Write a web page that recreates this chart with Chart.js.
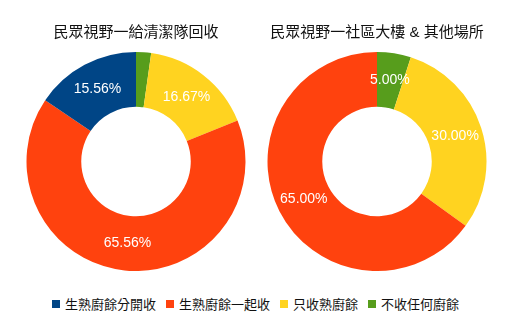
<!DOCTYPE html>
<html>
<head>
<meta charset="utf-8">
<script src="https://cdn.jsdelivr.net/npm/chart.js@4/dist/chart.umd.min.js"></script>
<style>
  body { margin: 0; background: #fff; }
  #wrap { position: relative; width: 520px; height: 325px; font-family: "Liberation Sans", "Noto Sans CJK TC", sans-serif; }
  .pie { position: absolute; top: 0; height: 271px; }
  #legend { position: absolute; left: 52px; top: 294px; display: flex; font-size: 13px; color: #111; white-space: nowrap; }
  #legend span.item { display: flex; align-items: center; margin-right: 10px; }
  #legend i { display: inline-block; width: 8px; height: 8px; margin-right: 5px; }
</style>
</head>
<body>
<div id="wrap">
  <div class="pie" style="left:17px;width:238px"><canvas id="left"></canvas></div>
  <div class="pie" style="left:261px;width:232px"><canvas id="right"></canvas></div>
  <div id="legend"></div>
</div>
<script>
const categories = ["生熟廚餘分開收", "生熟廚餘一起收", "只收熟廚餘", "不收任何廚餘"];
const colors = ["#004586", "#ff420e", "#ffd320", "#579d1c"];
const cleaningTeam = [15.56, 65.56, 16.67, 2.22];
const buildings = [0, 65.00, 30.00, 5.00];
const titles = ["民眾視野一給清潔隊回收", "民眾視野一社區大樓 & 其他場所"];

// slices run counter-clockwise from 12 o'clock, so feed them in reverse
const rev = a => a.slice().reverse();

const sliceLabels = {
  id: "sliceLabels",
  afterDatasetsDraw(chart) {
    const ctx = chart.ctx;
    const ds = chart.data.datasets[0];
    ctx.save();
    ctx.font = "14px 'Liberation Sans', sans-serif";
    ctx.fillStyle = "#fff";
    ctx.textAlign = "center";
    ctx.textBaseline = "middle";
    chart.getDatasetMeta(0).data.forEach((arc, i) => {
      const v = ds.data[i];
      if (v < 3) return;
      const p = arc.tooltipPosition();
      ctx.fillText(v.toFixed(2) + "%", p.x, p.y);
    });
    ctx.restore();
  }
};

function makePie(id, values, title) {
  return new Chart(document.getElementById(id), {
    type: "doughnut",
    data: {
      labels: rev(categories),
      datasets: [{
        data: rev(values),
        backgroundColor: rev(colors),
        borderWidth: 0
      }]
    },
    options: {
      responsive: true,
      maintainAspectRatio: false,
      animation: false,
      cutout: "50%",
      plugins: {
        legend: { display: false },
        tooltip: { enabled: false },
        title: {
          display: true,
          text: title,
          color: "#111",
          font: { size: 15, weight: "normal", family: "'Liberation Sans', 'Noto Sans CJK TC', sans-serif" },
          padding: { top: 24, bottom: 10 }
        }
      }
    },
    plugins: [sliceLabels]
  });
}

makePie("left", cleaningTeam, titles[0]);
makePie("right", buildings, titles[1]);

const legend = document.getElementById("legend");
categories.forEach((c, i) => {
  const s = document.createElement("span");
  s.className = "item";
  s.innerHTML = '<i style="background:' + colors[i] + '"></i>' + c;
  legend.appendChild(s);
});
</script>
</body>
</html>
